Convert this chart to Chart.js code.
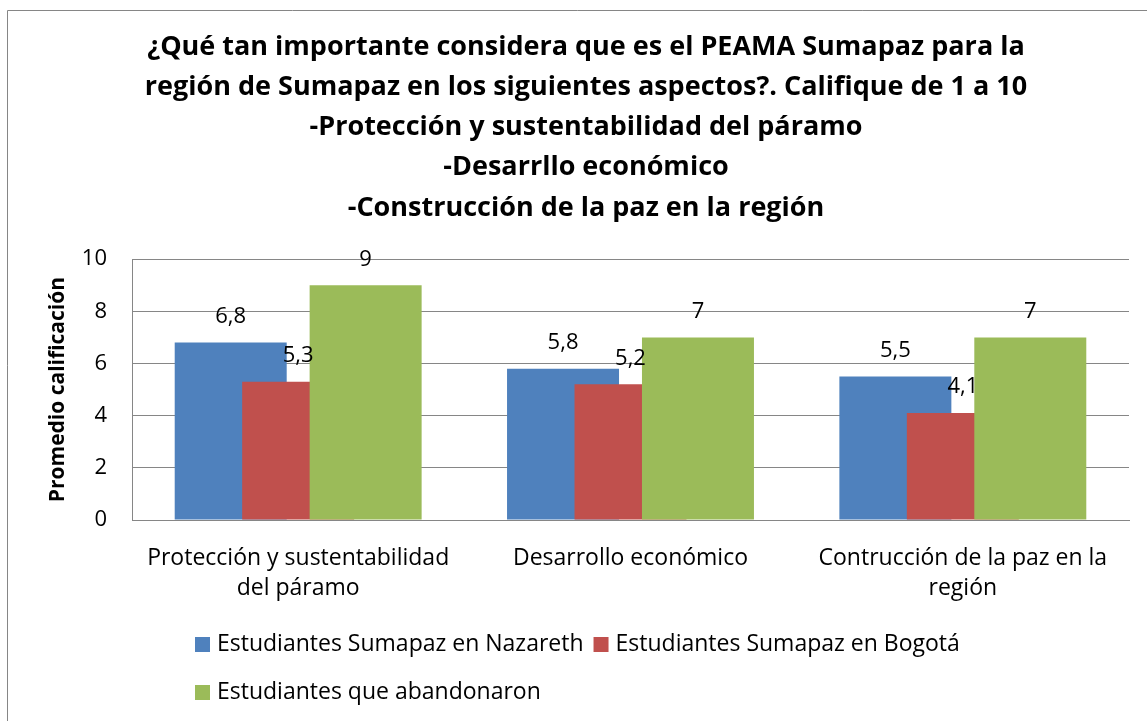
<!DOCTYPE html>
<html>
<head>
<meta charset="utf-8">
<script src="https://cdn.jsdelivr.net/npm/chart.js@4"></script>
<style>
  html, body { margin: 0; padding: 0; background: #fff; }
</style>
</head>
<body>
<canvas id="chart1" width="1147" height="721"></canvas>
<script>
const titleLines = [
  '¿Qué tan importante considera que es el PEAMA Sumapaz para la',
  'región de Sumapaz en los siguientes aspectos?. Califique de 1 a 10',
  '-Protección y sustentabilidad del páramo',
  '-Desarrllo económico',
  '-Construcción de la paz en la región'
];
const categories = [
  ['Protección y sustentabilidad', 'del páramo'],
  'Desarrollo económico',
  ['Contrucción de la paz en la', 'región']
];
const seriesNames = [
  'Estudiantes Sumapaz en Nazareth',
  'Estudiantes Sumapaz en Bogotá',
  'Estudiantes que abandonaron'
];
const nazareth = [6.8, 5.8, 5.5];
const bogota = [5.3, 5.2, 4.1];
const abandonaron = [9, 7, 7];
const seriesColors = ['#4F81BD', '#C0504D', '#9BBB59'];
const yMin = 0, yMax = 10, yStep = 2;
const yTitle = 'Promedio calificación';

const FONT = '"Open Sans", Carlito, Calibri, sans-serif';

// frame of the Excel chart (left + top edges only are visible)
const framePlugin = {
  id: 'frame',
  beforeDraw(chart) {
    const ctx = chart.ctx;
    ctx.save();
    ctx.strokeStyle = '#868686';
    ctx.lineWidth = 1;
    ctx.beginPath();
    ctx.moveTo(7.5, 721);
    ctx.lineTo(7.5, 10.5);
    ctx.lineTo(1147, 10.5);
    ctx.stroke();
    ctx.restore();
  }
};

// draw series in index order so later series sit on top, then the value labels
const overlapPlugin = {
  id: 'overlap',
  beforeDatasetsDraw(chart) {
    const ctx = chart.ctx;
    chart.data.datasets.forEach((ds, i) => {
      const meta = chart.getDatasetMeta(i);
      if (!meta.hidden) meta.controller.draw();
    });
    ctx.save();
    ctx.font = '22px ' + FONT;
    ctx.fillStyle = '#000';
    ctx.textAlign = 'center';
    ctx.textBaseline = 'middle';
    chart.data.datasets.forEach((ds, i) => {
      chart.getDatasetMeta(i).data.forEach((bar, j) => {
        ctx.fillText(String(ds.data[j]).replace('.', ','), bar.x, bar.y - 26);
      });
    });
    ctx.restore();
    return false;
  }
};

const legendPlugin = {
  id: 'rowLegend',
  afterDraw(chart) {
    const ctx = chart.ctx;
    const rows = [[0, 1], [2]];
    const rowY = [644, 692];
    ctx.save();
    ctx.font = '23px ' + FONT;
    ctx.textBaseline = 'middle';
    ctx.textAlign = 'left';
    rows.forEach((row, r) => {
      let x = 195;
      row.forEach(i => {
        const ds = chart.data.datasets[i];
        ctx.fillStyle = ds.backgroundColor;
        ctx.fillRect(x, rowY[r] - 7, 15, 15);
        ctx.fillStyle = '#000';
        ctx.fillText(ds.label, x + 22, rowY[r]);
        x += 22 + ctx.measureText(ds.label).width + 10;
      });
    });
    ctx.restore();
  }
};

const series = [nazareth, bogota, abandonaron];

new Chart(document.getElementById('chart1'), {
  type: 'bar',
  data: {
    labels: categories,
    datasets: series.map((vals, i) => ({
      label: seriesNames[i],
      data: vals,
      backgroundColor: seriesColors[i],
      borderWidth: 0,
      categoryPercentage: 0.609,
      barPercentage: 1.66
    }))
  },
  options: {
    responsive: false,
    animation: false,
    layout: { padding: { left: 43, right: 18, top: 0, bottom: 101 } },
    plugins: {
      legend: { display: false },
      tooltip: { enabled: false },
      title: {
        display: true,
        text: titleLines,
        color: '#000',
        font: { family: FONT, size: 27, weight: 'bold', lineHeight: 1.49 },
        padding: { top: 27, bottom: 31 }
      }
    },
    scales: {
      x: {
        grid: { display: false },
        border: { display: true, color: '#868686', width: 1 },
        ticks: {
          color: '#000',
          font: { family: FONT, size: 23, lineHeight: 1.3 },
          padding: 16,
          maxRotation: 0,
          autoSkip: false
        },
        afterFit(scale) { scale.height = 100; }
      },
      y: {
        min: yMin,
        max: yMax,
        grid: { color: '#868686', drawTicks: false },
        border: { display: true, color: '#868686', width: 1 },
        ticks: {
          stepSize: yStep,
          color: '#000',
          padding: 25,
          font: { family: FONT, size: 22 }
        },
        title: {
          display: true,
          text: yTitle,
          color: '#000',
          font: { family: FONT, size: 21, weight: 'bold' },
          padding: { top: 2, bottom: 0 }
        },
        afterFit(scale) { scale.width = 89; }
      }
    }
  },
  plugins: [framePlugin, overlapPlugin, legendPlugin]
});
</script>
</body>
</html>
